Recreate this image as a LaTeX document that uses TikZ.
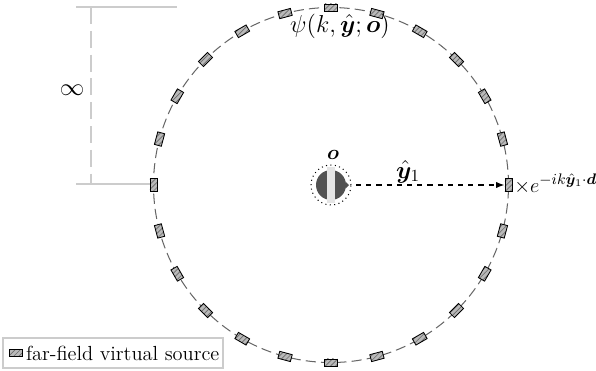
\documentclass[tikz,border=0pt]{standalone}
\usepackage{amsmath,bm}
\usetikzlibrary{patterns,arrows.meta,calc}
\begin{document}
\begin{tikzpicture}[x=0.588pt,y=0.588pt,
  src/.style={draw=black,line width=0.5pt,minimum width=7.6pt,minimum height=4.2pt,inner sep=0pt,
    preaction={fill=gray!55},pattern=north east lines,pattern color=gray!85!black},
  guide/.style={draw=gray!40,line width=1pt},
  lbl/.style={inner sep=1pt}]
\useasboundingbox (0,0) rectangle (596,-370);
\coordinate (C) at (331,-185);
% ring
\draw[gray!80!black,dashed,dash pattern=on 6pt off 3pt,line width=0.6pt] (C) circle (177.5);
\foreach \a in {0,15,...,345}{
  \node[src,rotate=\a+90] (s\a) at ($(C)+(\a:177.5)$) {};
}
% guides
\coordinate (g1) at (76,-7);
\coordinate (g2) at (177,-7);
\coordinate (g3) at (76,-184);
\coordinate (g4) at (150,-184);
\coordinate (v1) at (91,-7);
\coordinate (v2) at (91,-184);
\draw[guide] (g1) -- (g2);
\draw[guide] (g3) -- (g4);
\draw[guide,dashed,dash pattern=on 10pt off 4pt] (v1) -- (v2);
\node[lbl] (inf) at (72,-90) {\Large$\infty$};
% center object
\fill[gray!30!black!80] (C) circle (15);
\fill[gray!20] ($(C)+(-4,-18)$) rectangle ($(C)+(4,18)$);
\fill[gray!30!black!80] ($(C)+(14.5,3.5)$) -- ($(C)+(18,0)$) -- ($(C)+(14.5,-3.5)$) -- cycle;
\draw[dotted,line width=0.6pt] (C) circle (20);
\node[lbl] (O) at (333,-155) {\large$\bm{o}$};
\node[lbl] (psi) at (340,-26) {\Large$\psi(k,\hat{\bm{y}};\bm{o})$};
% arrow
\coordinate (a0) at (356,-185);
\draw[dashed,line width=0.7pt,-{Latex[length=5pt]}] (a0) -- (s0.north);
\node[lbl] (y1) at (408,-172) {\Large$\hat{\bm{y}}_1$};
\node[lbl,anchor=west,inner sep=0pt] (ph) at (514,-184) {\fontsize{12.6}{15}\selectfont$\times e^{-ik\hat{\bm{y}}_1\cdot\bm{d}}$};
% legend
\node[draw=gray!40,line width=0.6pt,minimum width=220*0.588pt,minimum height=30*0.588pt,inner sep=0pt] (leg) at (113,-353) {};
\node[src] (ls) at (16,-353) {};
\node[lbl,anchor=west] (lt) at (24,-353) {\large far-field virtual source};
\end{tikzpicture}
\end{document}
